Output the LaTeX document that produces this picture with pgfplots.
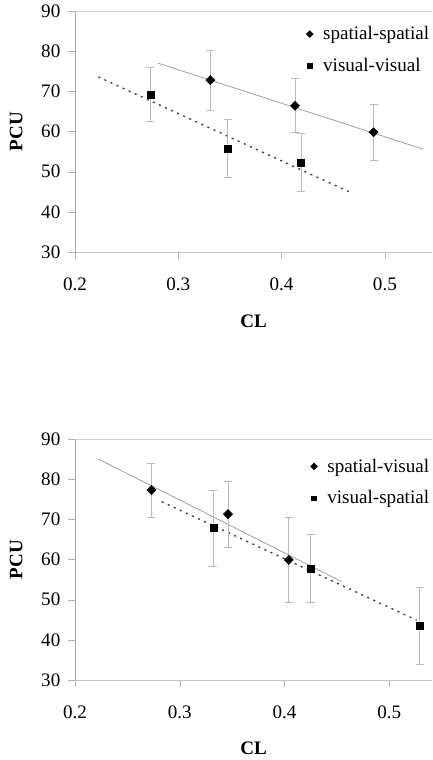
\documentclass[border=0pt]{standalone}
\usepackage{fontspec}
\setmainfont{Liberation Serif}
\usepackage{pgfplots}
\pgfplotsset{compat=1.18}

% x, y, error
\pgfplotstableread{
x     y     e
0.331 72.8  7.5
0.413 66.4  6.7
0.489 59.8  7.0
}\spatspat
\pgfplotstableread{
x     y     e
0.273 69.2  6.7
0.348 55.8  7.3
0.419 52.3  7.2
}\visvis
\pgfplotstableread{
x     y     e
0.273 77.3  6.7
0.346 71.3  8.2
0.404 59.9  10.6
}\spatvis
\pgfplotstableread{
x     y     e
0.332 67.8  9.5
0.425 57.7  8.5
0.529 43.5  9.5
}\visspat

\pgfplotsset{
  cuplot/.style={
    scale only axis,
    width=267.75pt, height=180.75pt,
    anchor=south west,
    xmin=0.2, ymin=30, ymax=90,
    xtick={0.2,0.3,0.4,0.5},
    ytick={30,40,50,60,70,80,90},
    axis x line*=bottom, axis y line*=left,
    x axis line style={gray!45},
    y axis line style={gray!70},
    tick style={gray!60},
    tick align=outside,
    major tick length=5pt,
    /pgf/number format/assume math mode=true,
    ticklabel style={font=\fontsize{14.3}{16}\selectfont},
    xticklabel style={yshift=-11pt},
    yticklabel style={xshift=-2.5pt},
    label style={font=\bfseries\fontsize{14.3}{16}\selectfont},
    xlabel style={at={(axis description cs:0.5,-0.289)}, anchor=center},
    ylabel style={at={(axis description cs:-0.165,0.5)}, anchor=center},
    xlabel={CL}, ylabel={PCU},
    clip=false,
    legend cell align=left,
    legend style={draw=none, fill=none, at={(rel axis cs:1,0.948)}, anchor=north east,
      font=\fontsize{14.3}{16}\selectfont, row sep=8.5pt, inner sep=0pt,
      /tikz/every odd column/.append style={column sep=5.5pt}},
  },
  errbar/.style={only marks, forget plot,
    error bars/y dir=both, error bars/y explicit,
    error bars/error bar style={gray!55, line width=0.6pt},
    error bars/error mark options={gray!55, rotate=90, mark size=3pt, line width=0.6pt}},
  dmd/.style={mark=square*, mark options={black, fill=black, rotate=45}},
  sqr/.style={mark=square*, mark options={black, fill=black}},
}

\begin{document}
\begin{tikzpicture}
\path[use as bounding box] (0pt,0pt) rectangle (324pt,570pt);
\clip (0pt,0pt) rectangle (324pt,570pt);

\begin{axis}[cuplot, at={(56.25pt,381pt)}, xmax=0.5456]
\draw[gray!35, line width=0.6pt] (rel axis cs:0,1) -- (rel axis cs:1.1,1);
\addplot[gray!75, line width=0.6pt, forget plot] coordinates {(0.2806,77.0) (0.537,55.6)};
\addplot[black!75, line width=1pt, dash pattern=on 1.6pt off 3.4pt, forget plot] coordinates {(0.2226,73.6) (0.466,44.9)};
\addplot[errbar, dmd, mark size=2.4pt]
  table[x=x, y=y, y error=e] {\spatspat};
\addplot[errbar, sqr, mark size=2.6pt]
  table[x=x, y=y, y error=e] {\visvis};
\addlegendimage{only marks, dmd, mark size=1.8pt}
\addlegendimage{only marks, sqr, mark size=1.8pt}
\legend{spatial-spatial, visual-visual}
\end{axis}

\begin{axis}[cuplot, at={(56.25pt,60pt)}, xmax=0.5407,
  xlabel style={at={(axis description cs:0.5,-0.282)}},
  legend style={at={(rel axis cs:1,0.93)}}]
\draw[gray!35, line width=0.6pt] (rel axis cs:0,1) -- (rel axis cs:1.1,1);
\addplot[gray!75, line width=0.6pt, forget plot] coordinates {(0.2223,85.0) (0.4544,54.5)};
\addplot[black!75, line width=1pt, dash pattern=on 1.6pt off 3.4pt, forget plot] coordinates {(0.2827,74.4) (0.526,44.9)};
\addplot[errbar, dmd, mark size=2.4pt]
  table[x=x, y=y, y error=e] {\spatvis};
\addplot[errbar, sqr, mark size=2.6pt]
  table[x=x, y=y, y error=e] {\visspat};
\addlegendimage{only marks, dmd, mark size=1.8pt}
\addlegendimage{only marks, sqr, mark size=1.8pt}
\legend{spatial-visual, visual-spatial}
\end{axis}
\end{tikzpicture}
\end{document}
